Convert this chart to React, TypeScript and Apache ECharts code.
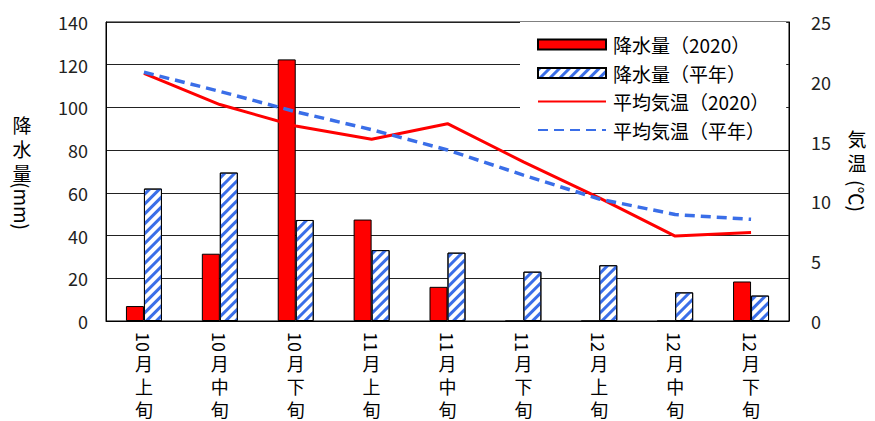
import React, { useEffect, useRef } from 'react';
import * as echarts from 'echarts';

const categories = ['10月上旬', '10月中旬', '10月下旬', '11月上旬', '11月中旬', '11月下旬', '12月上旬', '12月中旬', '12月下旬'];
const monthLabels = ['10', '10', '10', '11', '11', '11', '12', '12', '12'];
const periodLabels = ['月\n上\n旬', '月\n中\n旬', '月\n下\n旬', '月\n上\n旬', '月\n中\n旬', '月\n下\n旬', '月\n上\n旬', '月\n中\n旬', '月\n下\n旬'];

const rain2020 = [7, 31.5, 122.5, 47.5, 16, 0, 0, 0, 18.5];
const rainNormal = [62, 69.5, 47.3, 33.2, 32, 23.1, 26.1, 13.4, 11.9];
const temp2020 = [20.7, 18.1, 16.3, 15.2, 16.5, 13.3, 10.3, 7.1, 7.4];
const tempNormal = [20.8, 19.2, 17.5, 16.0, 14.3, 12.2, 10.2, 8.9, 8.5];

const seriesNames = ['降水量（2020）', '降水量（平年）', '平均気温（2020）', '平均気温（平年）'];
const leftTicks = { min: 0, max: 140, interval: 20 };
const rightTicks = { min: 0, max: 25, interval: 5 };

const FONT = "'Noto Sans CJK JP', sans-serif";
const RED = '#ff0000';
const BLUE = '#3a6ee8';

export default function App() {
  const ref = useRef<HTMLDivElement>(null);
  useEffect(() => {
    document.body.style.margin = '0';
    const chart = echarts.init(ref.current!, null, { renderer: 'svg' });
    const hiddenSymbol = { color: 'rgba(0,0,0,0)', borderWidth: 0, opacity: 0 };
    const option: any = {
      animation: false,
      backgroundColor: '#fff',
      textStyle: { fontFamily: FONT },
      grid: { left: 106, right: 86, top: 22, bottom: 100, show: true, borderColor: '#000', borderWidth: 1 },
      legend: {
        orient: 'vertical',
        left: 520,
        top: 22,
        padding: [13, 17, 8, 17],
        backgroundColor: '#fff',
        itemWidth: 68,
        itemHeight: 10,
        itemGap: 9.5,
        textStyle: { fontFamily: FONT, fontSize: 19, color: '#000', padding: [0, 0, 0, 2] },
        data: [
          { name: seriesNames[0], icon: 'rect' },
          { name: seriesNames[1], icon: 'rect' },
          { name: seriesNames[2], itemStyle: hiddenSymbol },
          { name: seriesNames[3], itemStyle: hiddenSymbol },
        ],
      },
      xAxis: {
        type: 'category',
        data: categories,
        axisLine: { lineStyle: { color: '#000', width: 1 } },
        axisTick: { show: false },
        axisLabel: { show: false },
      },
      yAxis: [
        {
          type: 'value',
          ...leftTicks,
          axisLine: { show: true, lineStyle: { color: '#000' } },
          axisTick: { show: false },
          splitLine: { lineStyle: { color: '#222', width: 1 } },
          axisLabel: { fontFamily: FONT, fontSize: 18, color: '#222', margin: 18 },
        },
        {
          type: 'value',
          position: 'right',
          ...rightTicks,
          axisLine: { show: true, lineStyle: { color: '#000' } },
          axisTick: { show: false },
          splitLine: { show: false },
          axisLabel: { fontFamily: FONT, fontSize: 18, color: '#222', margin: 22 },
        },
      ],
      series: [
        {
          name: seriesNames[0],
          type: 'bar',
          data: rain2020,
          barWidth: 18,
          barGap: '0%',
          itemStyle: { color: RED, borderColor: '#000', borderWidth: 1 },
        },
        {
          name: seriesNames[1],
          type: 'bar',
          data: rainNormal,
          barWidth: 18,
          barGap: '0%',
          itemStyle: {
            color: '#fff',
            borderColor: '#000',
            borderWidth: 1,
            decal: {
              symbol: 'rect',
              symbolSize: 1,
              color: BLUE,
              dashArrayX: [1, 0],
              dashArrayY: [3, 4],
              rotation: -Math.PI / 4,
            },
          },
        },
        {
          name: seriesNames[2],
          type: 'line',
          yAxisIndex: 1,
          data: temp2020,
          symbol: 'none',
          z: 5,
          lineStyle: { color: RED, width: 3 },
          itemStyle: { color: RED },
        },
        {
          name: seriesNames[3],
          type: 'line',
          yAxisIndex: 1,
          data: tempNormal,
          symbol: 'none',
          z: 5,
          lineStyle: { color: BLUE, width: 3.5, type: [10, 6] },
          itemStyle: { color: BLUE },
        },
      ],
    };
    chart.setOption(option);

    const graphics: any[] = [];
    categories.forEach((c, i) => {
      const x = chart.convertToPixel({ xAxisIndex: 0 }, c) as number;
      graphics.push({
        type: 'text',
        x,
        y: 342,
        rotation: -Math.PI / 2,
        style: { text: monthLabels[i], font: `18px ${FONT}`, fill: '#000', align: 'center', verticalAlign: 'middle' },
      });
      graphics.push({
        type: 'text',
        x,
        y: 351,
        style: { text: periodLabels[i], font: `18px ${FONT}`, fill: '#000', align: 'center', verticalAlign: 'top', lineHeight: 23 },
      });
    });
    // axis titles
    graphics.push({
      type: 'text',
      x: 22,
      y: 112,
      style: { text: '降\n水\n量', font: `19px ${FONT}`, fill: '#000', align: 'center', verticalAlign: 'top', lineHeight: 24 },
    });
    graphics.push({
      type: 'text',
      x: 22,
      y: 206,
      rotation: -Math.PI / 2,
      style: { text: '(mm)', font: `19px ${FONT}`, fill: '#000', align: 'center', verticalAlign: 'middle' },
    });
    graphics.push({
      type: 'text',
      x: 857,
      y: 126,
      style: { text: '気\n温', font: `19px ${FONT}`, fill: '#000', align: 'center', verticalAlign: 'top', lineHeight: 24 },
    });
    graphics.push({
      type: 'text',
      x: 857,
      y: 196,
      rotation: -Math.PI / 2,
      style: { text: '(℃)', font: `19px ${FONT}`, fill: '#000', align: 'center', verticalAlign: 'middle' },
    });
    chart.setOption({ graphic: graphics });

    return () => chart.dispose();
  }, []);
  return <div ref={ref} style={{ width: 875, height: 421 }} />;
}
